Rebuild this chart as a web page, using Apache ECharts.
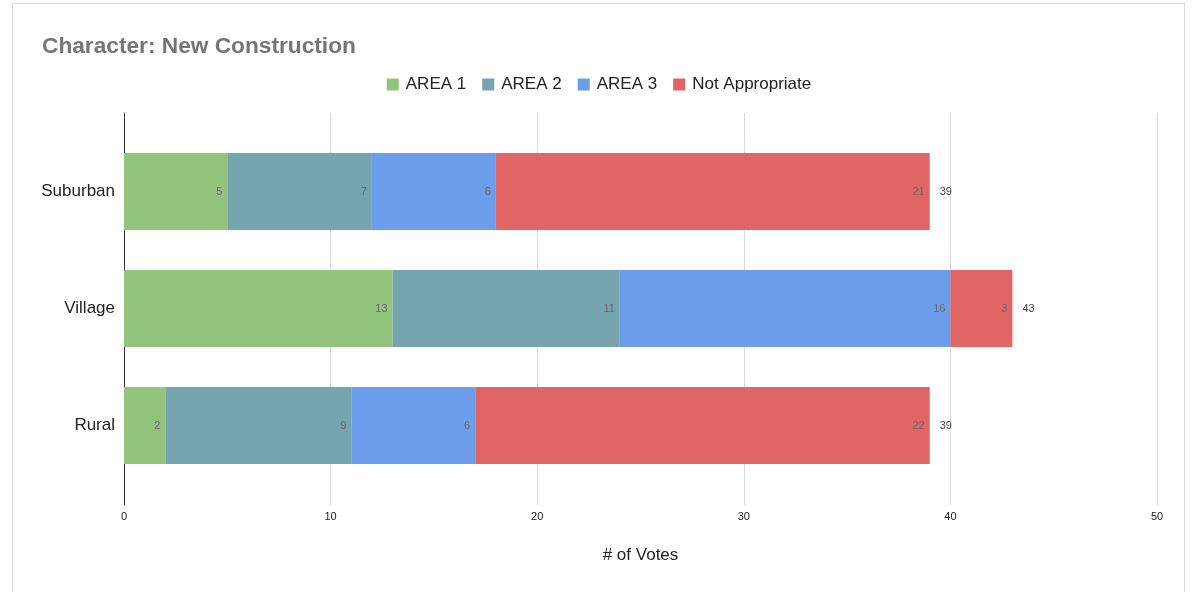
<!DOCTYPE html>
<html>
<head>
<meta charset="utf-8">
<script src="https://cdn.jsdelivr.net/npm/echarts@6/dist/echarts.min.js"></script>
<style>
  html, body { margin: 0; padding: 0; background: #fff; }
  #card {
    position: absolute; left: 12px; top: 3px; width: 1173px; height: 600px;
    border: 1px solid #dadada; box-sizing: border-box;
  }
  #showData { position: absolute; left: 0; top: 0; width: 1198px; height: 592px; }
</style>
</head>
<body>
<div id="card"></div>
<div id="showData"></div>
<script>
// categories top -> bottom
var categories = ['Suburban', 'Village', 'Rural'];
var area1 = [5, 13, 2];
var area2 = [7, 11, 9];
var area3 = [6, 16, 6];
var notAppropriate = [21, 3, 22];
var totals = [39, 43, 39];
var xTicks = [0, 10, 20, 30, 40, 50];

var seriesNames = ['AREA 1', 'AREA 2', 'AREA 3', 'Not Appropriate'];
var seriesColors = ['#93c47d', '#76a5af', '#6d9eeb', '#e06666'];
var seriesData = [area1, area2, area3, notAppropriate];
var font = 'Arial, "Liberation Sans", sans-serif';

var series = seriesData.map(function (d, i) {
  return {
    name: seriesNames[i],
    type: 'bar',
    stack: 'votes',
    barWidth: '66%',
    xAxisIndex: 0,
    yAxisIndex: 0,
    itemStyle: { color: seriesColors[i] },
    label: {
      show: true,
      position: 'insideRight',
      distance: 5,
      color: '#666',
      fontSize: 11,
      fontFamily: font
    },
    data: d.slice().reverse()
  };
});

// zero-width bar at the end of each stack, only to carry the total label
series.push({
  name: 'total',
  type: 'bar',
  stack: 'votes',
  xAxisIndex: 0,
  yAxisIndex: 0,
  itemStyle: { color: 'transparent' },
  label: {
    show: true,
    position: 'right',
    distance: 10,
    color: '#444',
    fontSize: 11,
    fontFamily: font,
    formatter: function (p) { return totals.slice().reverse()[p.dataIndex]; }
  },
  data: totals.map(function () { return 0; })
});

var option = {
  animation: false,
  title: {
    text: 'Character: New Construction',
    left: 37,
    top: 30,
    textStyle: { color: '#757575', fontSize: 22.7, fontWeight: 'bold', fontFamily: font }
  },
  legend: {
    data: seriesNames,
    top: 71,
    left: 'center',
    icon: 'rect',
    itemWidth: 12,
    itemHeight: 12,
    itemGap: 16,
    textStyle: { color: '#222', fontSize: 17, fontFamily: font, padding: [0, 0, 0, 2] }
  },
  grid: [
    // bars
    { left: 124, right: 41, top: 133, bottom: 108 },
    // frame: gridlines, axis line, tick labels
    { left: 124, right: 41, top: 113, bottom: 87 }
  ],
  xAxis: [
    {
      gridIndex: 0, type: 'value', min: 0, max: 50, interval: 10,
      axisLine: { show: false }, axisTick: { show: false },
      axisLabel: { show: false }, splitLine: { show: false }
    },
    {
      gridIndex: 1, type: 'value', min: xTicks[0], max: xTicks[xTicks.length - 1], interval: 10,
      name: '# of Votes',
      nameLocation: 'middle',
      nameGap: 42,
      nameTextStyle: { color: '#222', fontSize: 17, fontFamily: font },
      axisLine: { show: false },
      axisTick: { show: false },
      axisLabel: { color: '#222', fontSize: 11, margin: 6, fontFamily: font },
      splitLine: { lineStyle: { color: '#d9d9d9' } }
    }
  ],
  yAxis: [
    {
      gridIndex: 0,
      type: 'category',
      data: categories.slice().reverse(),
      axisLine: { show: false },
      axisTick: { show: false },
      axisLabel: { color: '#222', fontSize: 17, margin: 9, fontFamily: font }
    },
    {
      gridIndex: 1,
      type: 'value',
      min: 0, max: 1,
      axisLine: { show: true, onZero: false, lineStyle: { color: '#333' } },
      axisTick: { show: false },
      axisLabel: { show: false },
      splitLine: { show: false }
    }
  ],
  series: series
};

var chartDom = document.getElementById('showData');
var myChart = echarts.init(chartDom);
option && myChart.setOption(option);
</script>
</body>
</html>
